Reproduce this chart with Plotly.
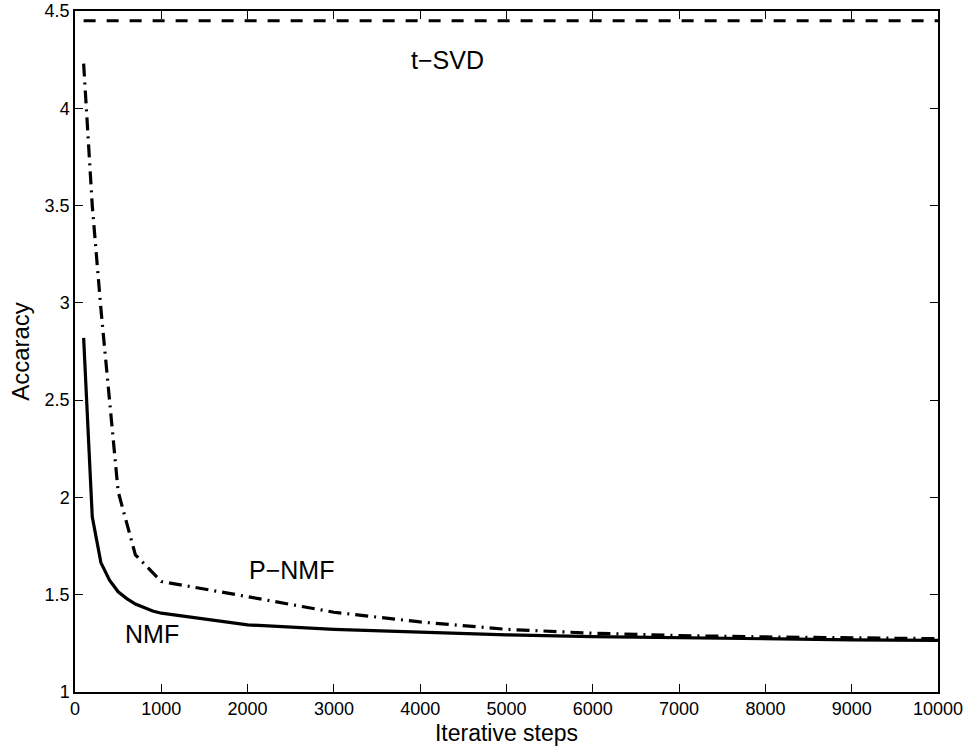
import plotly.graph_objects as go

# Data
nmf_steps = [100, 200, 300, 400, 500, 600, 700, 800, 900, 1000,
             2000, 3000, 4000, 5000, 6000, 7000, 8000, 9000, 10000]
nmf_acc = [2.82, 1.90, 1.665, 1.575, 1.515, 1.48, 1.452, 1.432, 1.416, 1.405,
           1.345, 1.322, 1.306, 1.294, 1.285, 1.278, 1.273, 1.268, 1.265]

pnmf_steps = [100, 200, 300, 400, 500, 700, 1000,
              2000, 3000, 4000, 5000, 6000, 7000, 8000, 9000, 10000]
pnmf_acc = [4.23, 3.50, 2.97, 2.48, 2.03, 1.705, 1.568,
            1.49, 1.41, 1.36, 1.322, 1.302, 1.29, 1.283, 1.278, 1.274]

tsvd_steps = [100, 10000]
tsvd_acc = [4.45, 4.45]

x_ticks = [0, 1000, 2000, 3000, 4000, 5000, 6000, 7000, 8000, 9000, 10000]
y_ticks = [1, 1.5, 2, 2.5, 3, 3.5, 4, 4.5]

labels = ["t\u2212SVD", "P\u2212NMF", "NMF"]
label_x = [4316, 2511, 888]
label_y = [4.246, 1.627, 1.298]

FONT = "Liberation Sans, Arial, Helvetica, sans-serif"

fig = go.Figure()
fig.add_trace(go.Scatter(x=tsvd_steps, y=tsvd_acc, mode="lines",
                         line=dict(color="black", width=3.2, dash="12px,11px"),
                         showlegend=False))
fig.add_trace(go.Scatter(x=pnmf_steps, y=pnmf_acc, mode="lines",
                         line=dict(color="black", width=3.2, dash="13px,6px,2px,6px"),
                         showlegend=False))
fig.add_trace(go.Scatter(x=nmf_steps, y=nmf_acc, mode="lines",
                         line=dict(color="black", width=3.2),
                         showlegend=False))

for t, xx, yy in zip(labels, label_x, label_y):
    fig.add_annotation(x=xx, y=yy, text=t, showarrow=False,
                       font=dict(family=FONT, size=25, color="black"),
                       xanchor="center", yanchor="middle")

axis_common = dict(showgrid=False, zeroline=False, showline=True,
                   linecolor="black", linewidth=1.5, mirror="ticks",
                   ticks="inside", ticklen=8, tickwidth=1, tickcolor="black",
                   automargin=False,
                   tickfont=dict(family=FONT, size=18, color="black"))

fig.update_xaxes(range=[0, 10000], tickvals=x_ticks,
                 ticktext=[str(v) for v in x_ticks],
                 title=dict(text="Iterative steps", standoff=7,
                            font=dict(family=FONT, size=23, color="black")),
                 **axis_common)
fig.update_yaxes(range=[1, 4.5], tickvals=y_ticks,
                 ticktext=[("%g" % v) for v in y_ticks],
                 title=dict(text="Accaracy", standoff=8,
                            font=dict(family=FONT, size=24, color="black")),
                 **axis_common)

fig.update_layout(width=971, height=752,
                  margin=dict(l=75, r=33, t=11, b=60, autoexpand=False),
                  plot_bgcolor="white", paper_bgcolor="white",
                  font=dict(family=FONT, color="black"))

# remove the browser's default 8px body margin so the figure sits at (0, 0)
fig.write_html("out.html",
               config={"displayModeBar": False},
               post_script="document.body.style.margin='0px';")
